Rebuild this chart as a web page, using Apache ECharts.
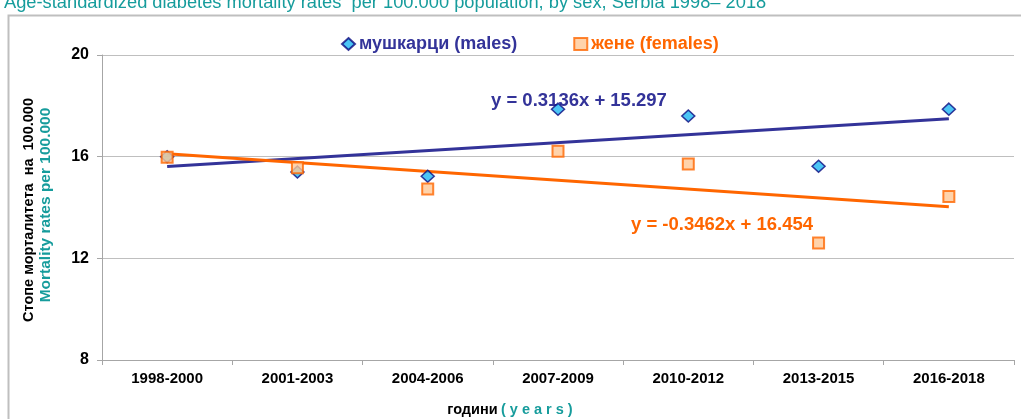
<!DOCTYPE html>
<html>
<head>
<meta charset="utf-8">
<script src="https://cdn.jsdelivr.net/npm/echarts@6/dist/echarts.min.js"></script>
<style>html,body{margin:0;padding:0;background:#fff;}#c{width:1021px;height:419px;}</style>
</head>
<body>
<div id="c"></div>
<script>
var categories = ['1998-2000','2001-2003','2004-2006','2007-2009','2010-2012','2013-2015','2016-2018'];
var males = [16.0, 15.4, 15.23, 17.87, 17.6, 15.62, 17.87];
var females = [15.98, 15.56, 14.73, 16.21, 15.71, 12.6, 14.43];
var maleTrend = [[0, 15.61], [6, 17.49]];
var femaleTrend = [[0, 16.11], [6, 14.03]];
var yTicks = [8, 12, 16, 20];
var maleName = 'мушкарци (males)';
var femaleName = 'жене (females)';
var maleEq = 'y = 0.3136x + 15.297';
var femaleEq = 'y = -0.3462x + 16.454';
var titleText = 'Age-standardized diabetes mortality rates  per 100.000 population, by sex, Serbia 1998\u2013 2018';

var FONT = 'Liberation Sans, Arial, sans-serif';
var chart = echarts.init(document.getElementById('c'));
chart.setOption({
  animation: false,
  backgroundColor: '#fff',
  title: {
    text: titleText, left: -1, top: -11,
    textStyle: {color: '#169C9C', fontSize: 18.3, fontWeight: 'normal', fontFamily: FONT}
  },
  legend: {
    top: 30, left: 336, itemGap: 56, itemWidth: 13, itemHeight: 12,
    data: [
      {name: maleName, icon: 'diamond', textStyle: {color: '#333399'}},
      {name: femaleName, icon: 'rect', textStyle: {color: '#FF6600'}}
    ],
    textStyle: {fontSize: 18, fontWeight: 'bold', fontFamily: FONT, padding: [0,0,0,-1]}
  },
  grid: {left: 102, right: 7, top: 55, bottom: 59, containLabel: false},
  xAxis: [{
    type: 'category', data: categories, boundaryGap: true,
    axisLine: {lineStyle: {color: '#A6A6A6', width: 1}},
    axisTick: {show: true, length: 5, lineStyle: {color: '#A6A6A6'}},
    axisLabel: {color: '#000', fontSize: 15, fontWeight: 'bold', fontFamily: FONT, margin: 11}
  }, {
    type: 'value', min: -0.5, max: 6.5, show: false
  }],
  yAxis: {
    type: 'value', min: yTicks[0], max: yTicks[yTicks.length-1], interval: 4,
    axisLine: {show: true, onZero: false, lineStyle: {color: '#A6A6A6'}},
    axisTick: {show: true, length: 5, lineStyle: {color: '#A6A6A6'}},
    splitLine: {lineStyle: {color: '#BFBFBF'}},
    axisLabel: {color: '#000', fontSize: 16, fontWeight: 'bold', fontFamily: FONT, margin: 13}
  },
  series: [
    {
      name: maleName + ' trend', type: 'line', xAxisIndex: 1, data: maleTrend,
      symbol: 'none', lineStyle: {color: '#333399', width: 3}, z: 2, silent: true
    },
    {
      name: femaleName + ' trend', type: 'line', xAxisIndex: 1, data: femaleTrend,
      symbol: 'none', lineStyle: {color: '#FF6600', width: 3}, z: 3, silent: true
    },
    {
      name: maleName, type: 'scatter', data: males, symbol: 'diamond', symbolSize: [13, 12],
      itemStyle: {color: '#1FB6F2', borderColor: '#0A0A80', borderWidth: 1.5}, z: 4
    },
    {
      name: femaleName, type: 'scatter', data: females, symbol: 'rect', symbolSize: 11,
      itemStyle: {color: '#FFC896', borderColor: '#FF6600', borderWidth: 2}, z: 5
    }
  ],
  graphic: [
    {type: 'rect', left: 6, top: 13, shape: {width: 1040, height: 430}, style: {fill: 'none', stroke: '#BFBFBF', lineWidth: 2}, z: -1, silent: true},
    {type: 'text', x: 491, y: 91, style: {text: maleEq, fill: '#333399', font: 'bold 18.5px ' + FONT}},
    {type: 'text', x: 631, y: 215, style: {text: femaleEq, fill: '#FF6600', font: 'bold 18.5px ' + FONT}},
    {type: 'text', x: 29, y: 210, rotation: Math.PI/2, style: {text: 'Стопе морталитета  на  100.000', fill: '#000', font: 'bold 14.5px ' + FONT, align: 'center', verticalAlign: 'middle'}},
    {type: 'text', x: 46, y: 205, rotation: Math.PI/2, style: {text: 'Mortality rates per 100.000', fill: '#169C9C', font: 'bold 15.5px ' + FONT, align: 'center', verticalAlign: 'middle'}},
    {type: 'text', x: 510, y: 410, style: {
      text: '{a|години} {b|( y e a r s )}', align: 'center', verticalAlign: 'middle',
      rich: {a: {fill: '#000', font: 'bold 14.5px ' + FONT}, b: {fill: '#169C9C', font: 'bold 14.5px ' + FONT}}
    }}
  ]
});
</script>
</body>
</html>
